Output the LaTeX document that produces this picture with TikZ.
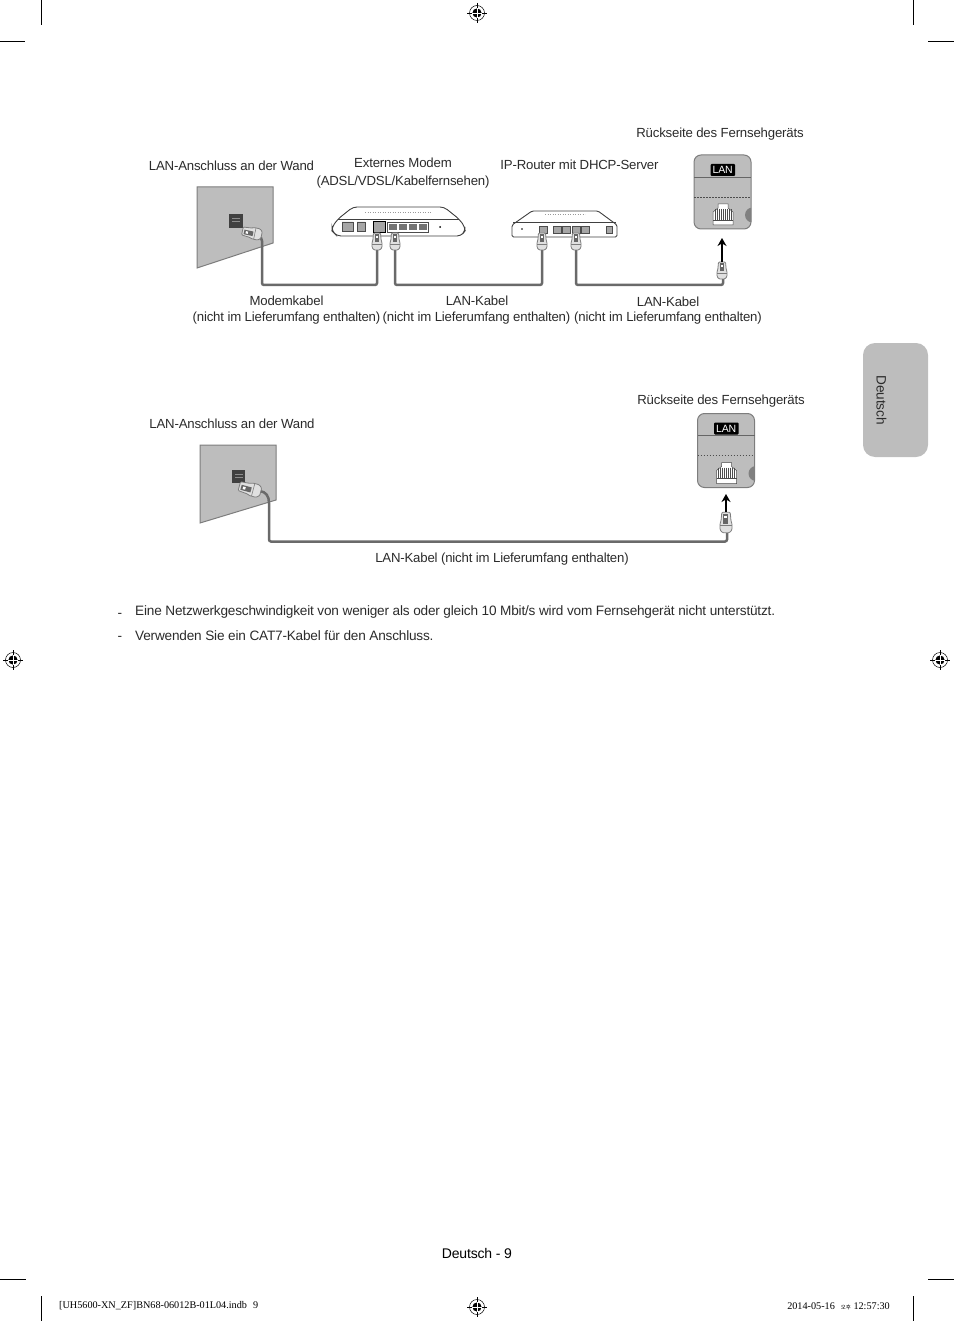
\documentclass[tikz,border=0pt]{standalone}
\usepackage{fontspec}
\setmainfont[LetterSpace=-1.4]{Liberation Sans}
\newfontfamily\footfont{Liberation Serif}
\newfontfamily\cjkfont{Noto Sans CJK KR}
\usetikzlibrary{arrows.meta,calc}
\definecolor{panelgray}{HTML}{BDBDBD}
\definecolor{edgegray}{HTML}{7D7D7D}
\definecolor{cablegray}{HTML}{6A6A6A}
\definecolor{inkgray}{HTML}{2B2B2B}
\tikzset{
  lbl/.style={font=\fontsize{13.2}{16}\selectfont,text=inkgray,inner sep=0pt,anchor=center,yshift=-1.2pt},
  note/.style={lbl,font=\fontsize{13.6}{16}\selectfont},
  foot/.style={font=\footfont\fontsize{10.2}{11}\selectfont,inner sep=0pt},
  crop/.style={line width=.9pt},
  cable/.style={line width=2.5pt,draw=cablegray,rounded corners=2pt},
  shell/.style={draw=black!75,fill=white,line width=.9pt},
  port/.style={draw=black!70,fill=black!35,line width=.5pt},
  pics/regmark/.style={code={
    \draw[line width=.5pt] (0,0) circle (7.5);
    \draw[line width=.6pt] (-10,0) -- (10,0) (0,-10) -- (0,10);
    \fill (0,0) circle (4.6);
    \draw[white,line width=.7pt] (-4.6,0) -- (4.6,0) (0,-4.6) -- (0,4.6);
  }},
  pics/plug/.style={code={
    \draw[draw=edgegray,fill=black!12,line width=.8pt,rounded corners=1pt] (-3.5,-8.5) -- (3.5,-8.5) -- (4.2,-1) -- (5,1) -- (5,6) -- (3,8.5) -- (-3,8.5) -- (-5,6) -- (-5,1) -- (-4.2,-1) -- cycle;
    \fill[black!60] (-2.5,-7) rectangle (1.5,1);
    \fill[white] (-1.5,-5.5) rectangle (.5,-3.5);
    \draw[edgegray,line width=.6pt] (-4.8,2.5) -- (4.8,2.5);
  }},
  pics/lanpanel/.style={code={
    \draw[draw=edgegray,fill=panelgray,line width=1pt,rounded corners=7pt] (0,0) rectangle (57,74);
    \begin{scope}
      \clip[rounded corners=7pt] (0,0) rectangle (57,74);
      \fill[black!50] (58.5,60) circle (7.5);
    \end{scope}
    \draw[black!60,line width=.7pt] (0,22) -- (57,22);
    \draw[black!70,dash pattern=on 1.5pt off 1.5pt,line width=.6pt] (0,42) -- (57,42);
    \fill[black,rounded corners=1pt] (16.5,9) rectangle (41,21);
    \node[text=white,font=\fontsize{10.5}{11}\selectfont,inner sep=0pt] (#1tag) at (28.7,15) {LAN};
    \draw[draw=black!70,fill=white,line width=.5pt] (19,70) -- (19,57) -- (24,53) -- (24,49) -- (34,49) -- (34,53) -- (39,57) -- (39,70) -- cycle;
    \foreach \k in {21,23,...,37} \draw[black!70,line width=.45pt] (\k,54) -- (\k,65);
    \draw[black!70,line width=.45pt] (19,65) -- (39,65);
  }},
}

\begin{document}
\begin{tikzpicture}[x=1pt,y=-1pt]
\useasboundingbox (0,0) rectangle (954,1321);

\draw[crop] (41,0) -- (41,25) (913,0) -- (913,25) (0,41) -- (25,41) (928,41) -- (954,41);
\draw[crop] (41,1296) -- (41,1321) (913,1296) -- (913,1321) (0,1279) -- (26,1279) (928,1279) -- (954,1279);
\foreach \p in {(477,13),(13,660),(940,660),(477,1307)} \pic at \p {regmark};

\fill[panelgray,rounded corners=12pt] (863,343) rectangle (928,457);
\node[note,rotate=-90] (tabtext) at (881.5,399) {Deutsch};

% upper row
\node[lbl] (backA) at (720,133) {Rückseite des Fernsehgeräts};
\node[lbl] (wallA) at (231.5,165) {LAN-Anschluss an der Wand};
\node[lbl] (modemA) at (403,162) {Externes Modem};
\node[lbl] (modemB) at (403,181) {(ADSL/VDSL/Kabelfernsehen)};
\node[lbl] (routerA) at (579.5,164) {IP-Router mit DHCP-Server};
\node[lbl] (cabA) at (286.5,300) {Modemkabel};
\node[lbl] (cabAx) at (286.5,317) {(nicht im Lieferumfang enthalten)};
\node[lbl] (cabB) at (477,300) {LAN-Kabel};
\node[lbl] (cabBx) at (476.5,317) {(nicht im Lieferumfang enthalten)};
\node[lbl] (cabC) at (668,301) {LAN-Kabel};
\node[lbl] (cabCx) at (668,317) {(nicht im Lieferumfang enthalten)};

\draw[draw=edgegray,fill=panelgray,line width=1pt] (197,187) -- (273,187) -- (273,243) -- (197,268) -- cycle;
\fill[black!75] (229,214) rectangle (243,228);
\draw[black!45,line width=.5pt] (232,218) -- (240,218) (232,221) -- (240,221);
\draw[shell,rounded corners=4pt] (332,227) -- (338,219) -- (353,207) -- (444,207) -- (459,219) -- (465,227) -- (465,231) -- (461,236) -- (337,236) -- (332,231) -- cycle;
\draw[black!75,line width=.6pt] (338,219) -- (459,219);
\draw[black!40,dotted,line width=.5pt] (365,212) -- (432,212);
\draw[port] (342,222) rectangle (353,231) (357,222) rectangle (365,231);
\draw[black,fill=black!35,line width=.9pt] (373,221) rectangle (385,232);
\draw[port,fill=white] (387,222) rectangle (428,232);
\foreach \k in {389,399,409,419} \fill[black!55] (\k,224) rectangle +(8,6);
\fill (440,227) circle (1);

\draw[shell,rounded corners=1.5pt] (512,237) -- (512,225) -- (532,211) -- (598,211) -- (617,225) -- (617,237) -- cycle;
\draw[black!75,line width=.6pt] (513,222) -- (616,222);
\draw[black!40,dotted,line width=.5pt] (545,214) -- (585,214);
\fill (522,229) circle (.9);
\draw[port] (539,226) rectangle (547,233);
\foreach \k in {553,562,572,581} \draw[port] (\k,226) rectangle +(8,7);
\draw[port] (606,226) rectangle (612,233);

\pic at (694,155) {lanpanel=A};

\coordinate (wallplugA) at (258,236);
\coordinate (modemin) at (377,250);
\coordinate (modemout) at (395,250);
\coordinate (routerin) at (542,250);
\coordinate (routerout) at (576,250);
\coordinate (tvplugA) at (723,278);
\coordinate (tvtipA) at (722,262);
\coordinate (tvportA) at (722,238);

\draw[cable] (wallplugA) .. controls (261,237) and (262,239) .. (262,243) -- (262,285) -| (modemin);
\draw[cable] (modemout) |- (routerin |- 0,285) -- (routerin);
\draw[cable] (routerout) |- (tvplugA |- 0,285) -- (tvplugA);
\pic[rotate=78,scale=1.15] at (252,233) {plug};
\foreach \p in {(377,241.5),(395,241.5),(542,241.5),(576,241.5),(722,270.5)} \pic at \p {plug};
\draw[-{Stealth[length=8pt,width=9pt]},line width=2.3pt] (tvtipA) -- (tvportA);

% lower row
\node[lbl] (backB) at (721,400) {Rückseite des Fernsehgeräts};
\node[lbl] (wallB) at (232,423) {LAN-Anschluss an der Wand};
\node[lbl] (cabD) at (502,558) {LAN-Kabel (nicht im Lieferumfang enthalten)};

\draw[draw=edgegray,fill=panelgray,line width=1pt] (200,445) -- (276,445) -- (276,500) -- (200,523) -- cycle;
\fill[black!75] (232,470) rectangle (245,483);
\draw[black!45,line width=.5pt] (235,474) -- (243,474) (235,477) -- (243,477);

\pic at (697.5,413.5) {lanpanel=B};

\coordinate (wallplugB) at (260,491);
\coordinate (tvplugB) at (727,533);
\coordinate (tvtipB) at (726,512);
\coordinate (tvportB) at (726,494);

\draw[cable] (wallplugB) .. controls (266,492) and (269,496) .. (269,505) |- (tvplugB |- 0,541.5) -- (tvplugB);
\pic[rotate=75,scale=1.3] at (250,489) {plug};
\pic[scale=1.2] at (726,522.5) {plug};
\draw[-{Stealth[length=8pt,width=9pt]},line width=2.3pt] (tvtipB) -- (tvportB);

% notes and footer
\node[note] (dashA) at (120,614) {-};
\node[note,anchor=west] (noteA) at (135,611) {Eine Netzwerkgeschwindigkeit von weniger als oder gleich 10 Mbit/s wird vom Fernsehgerät nicht unterstützt.};
\node[note] (dashB) at (120,637) {-};
\node[note,anchor=west] (noteB) at (135,634) {Verwenden Sie ein CAT7-Kabel für den Anschluss.};
\node[note,text=black,font=\fontsize{14}{16}\selectfont] (pageno) at (477,1252) {Deutsch - 9};
\node[foot,anchor=west] (footL) at (59,1306) {[UH5600-XN\_ZF]BN68-06012B-01L04.indb\hspace{6pt}9};
\node[foot,anchor=east] (footR) at (890,1306) {2014-05-16\hspace{6pt}{\cjkfont\fontsize{5.5}{7}\selectfont 오후} 12:57:30};
\end{tikzpicture}
\end{document}
